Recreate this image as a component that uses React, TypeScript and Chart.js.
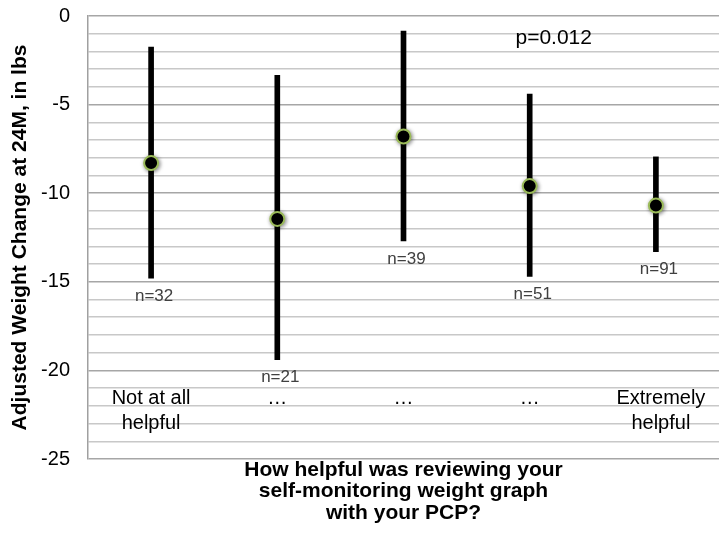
import React, { useEffect, useRef } from "react";
import { Chart, registerables } from "chart.js";

Chart.register(...registerables);

const categories: string[][] = [["Not at all", "helpful"], ["…"], ["…"], ["…"], ["Extremely", "helpful"]];
const means: number[] = [-8.3, -11.45, -6.8, -9.6, -10.7];
const lowerBounds: number[] = [-14.8, -19.4, -12.7, -14.7, -13.3];
const upperBounds: number[] = [-1.75, -3.35, -0.85, -4.4, -7.95];
const nLabels: string[] = ["n=32", "n=21", "n=39", "n=51", "n=91"];
const pValueText = "p=0.012";
const yTitle = "Adjusted Weight Change at 24M, in lbs";
const xTitle: string[] = ["How helpful was reviewing your", "self-monitoring weight graph", "with your PCP?"];

const FONT = "'Liberation Sans', Arial, sans-serif";

const annotationPlugin = {
  id: "annotations",
  beforeDatasetDraw(chart: any, args: any) {
    if (args.index === 1) {
      const ctx = chart.ctx;
      ctx.save();
      ctx.shadowColor = "rgba(0,0,0,0.45)";
      ctx.shadowBlur = 4;
      ctx.shadowOffsetX = 1;
      ctx.shadowOffsetY = 1;
    }
  },
  afterDatasetDraw(chart: any, args: any) {
    if (args.index === 1) chart.ctx.restore();
  },
  afterDraw(chart: any) {
    const ctx = chart.ctx;
    const xs = chart.scales.x;
    const ys = chart.scales.y;
    ctx.save();
    ctx.textAlign = "center";
    ctx.textBaseline = "middle";
    // n labels
    ctx.font = `17px ${FONT}`;
    ctx.fillStyle = "#404040";
    nLabels.forEach((t, i) => {
      ctx.fillText(t, xs.getPixelForValue(i) + 3, ys.getPixelForValue(lowerBounds[i]) + 18);
    });
    // category labels inside the plot
    ctx.font = `20px ${FONT}`;
    ctx.fillStyle = "#000";
    categories.forEach((lines, i) => {
      const x = xs.getPixelForValue(i);
      const y0 = ys.getPixelForValue(-21.6);
      lines.forEach((ln, j) => ctx.fillText(ln, x + (i === 4 ? 5 : 0), y0 + j * 24.5));
    });
    // p value
    ctx.font = `21px ${FONT}`;
    ctx.fillText(pValueText, xs.getPixelForValue(3) + 24, ys.getPixelForValue(-1.25));
    ctx.restore();
  },
};

export default function App() {
  const ref = useRef<HTMLCanvasElement>(null);
  useEffect(() => {
    document.body.style.margin = "0";
    if (!ref.current) return;
    const chart = new Chart(ref.current, {
      type: "bar",
      data: {
        labels: categories.map((c) => c.join(" ")),
        datasets: [
          {
            type: "bar",
            data: lowerBounds.map((lo, i) => [lo, upperBounds[i]]) as any,
            backgroundColor: "#000",
            barThickness: 5,
            borderSkipped: false,
            order: 2,
          },
          {
            type: "line",
            data: means,
            showLine: false,
            pointRadius: 7,
            pointBackgroundColor: "#000",
            pointBorderColor: "#9bbb59",
            pointBorderWidth: 2,
            order: 1,
          } as any,
        ],
      },
      options: {
        responsive: false,
        animation: false,
        layout: { padding: { top: 16, right: 0, left: 0, bottom: 0 } },
        plugins: { legend: { display: false }, tooltip: { enabled: false } },
        scales: {
          x: {
            offset: true,
            grid: { display: false },
            border: { display: false },
            ticks: { display: false },
            title: {
              display: true,
              text: xTitle,
              font: { family: FONT, size: 21, weight: "bold", lineHeight: 1.03 },
              color: "#000",
              padding: { top: 0, bottom: 13 },
            },
            afterFit: (s: any) => {
              s.height = 78;
            },
          },
          y: {
            min: -25,
            max: 0,
            ticks: {
              stepSize: 1,
              autoSkip: false,
              padding: 18,
              color: "#000",
              font: { family: FONT, size: 20 },
              callback: (v: any) => (Number(v) % 5 === 0 ? String(v) : ""),
            },
            grid: {
              drawTicks: false,
              color: (c: any) => (c.tick && c.tick.value % 5 === 0 ? "#a6a6a6" : "#c8c8c8"),
              lineWidth: 1.5,
            },
            border: { display: true, color: "#a0a0a0", width: 1.5 },
            title: {
              display: true,
              text: yTitle,
              font: { family: FONT, size: 21, weight: "bold" },
              color: "#000",
              padding: { top: 8, bottom: 0 },
            },
            afterFit: (s: any) => {
              s.width = 88;
              s.paddingTop = 0;
              s.paddingBottom = 0;
            },
          },
        },
      },
      plugins: [annotationPlugin],
    });
    return () => chart.destroy();
  }, []);
  return (
    <div style={{ width: 728, height: 537 }}>
      <canvas ref={ref} width={728} height={537} style={{ display: "block" }} />
    </div>
  );
}
